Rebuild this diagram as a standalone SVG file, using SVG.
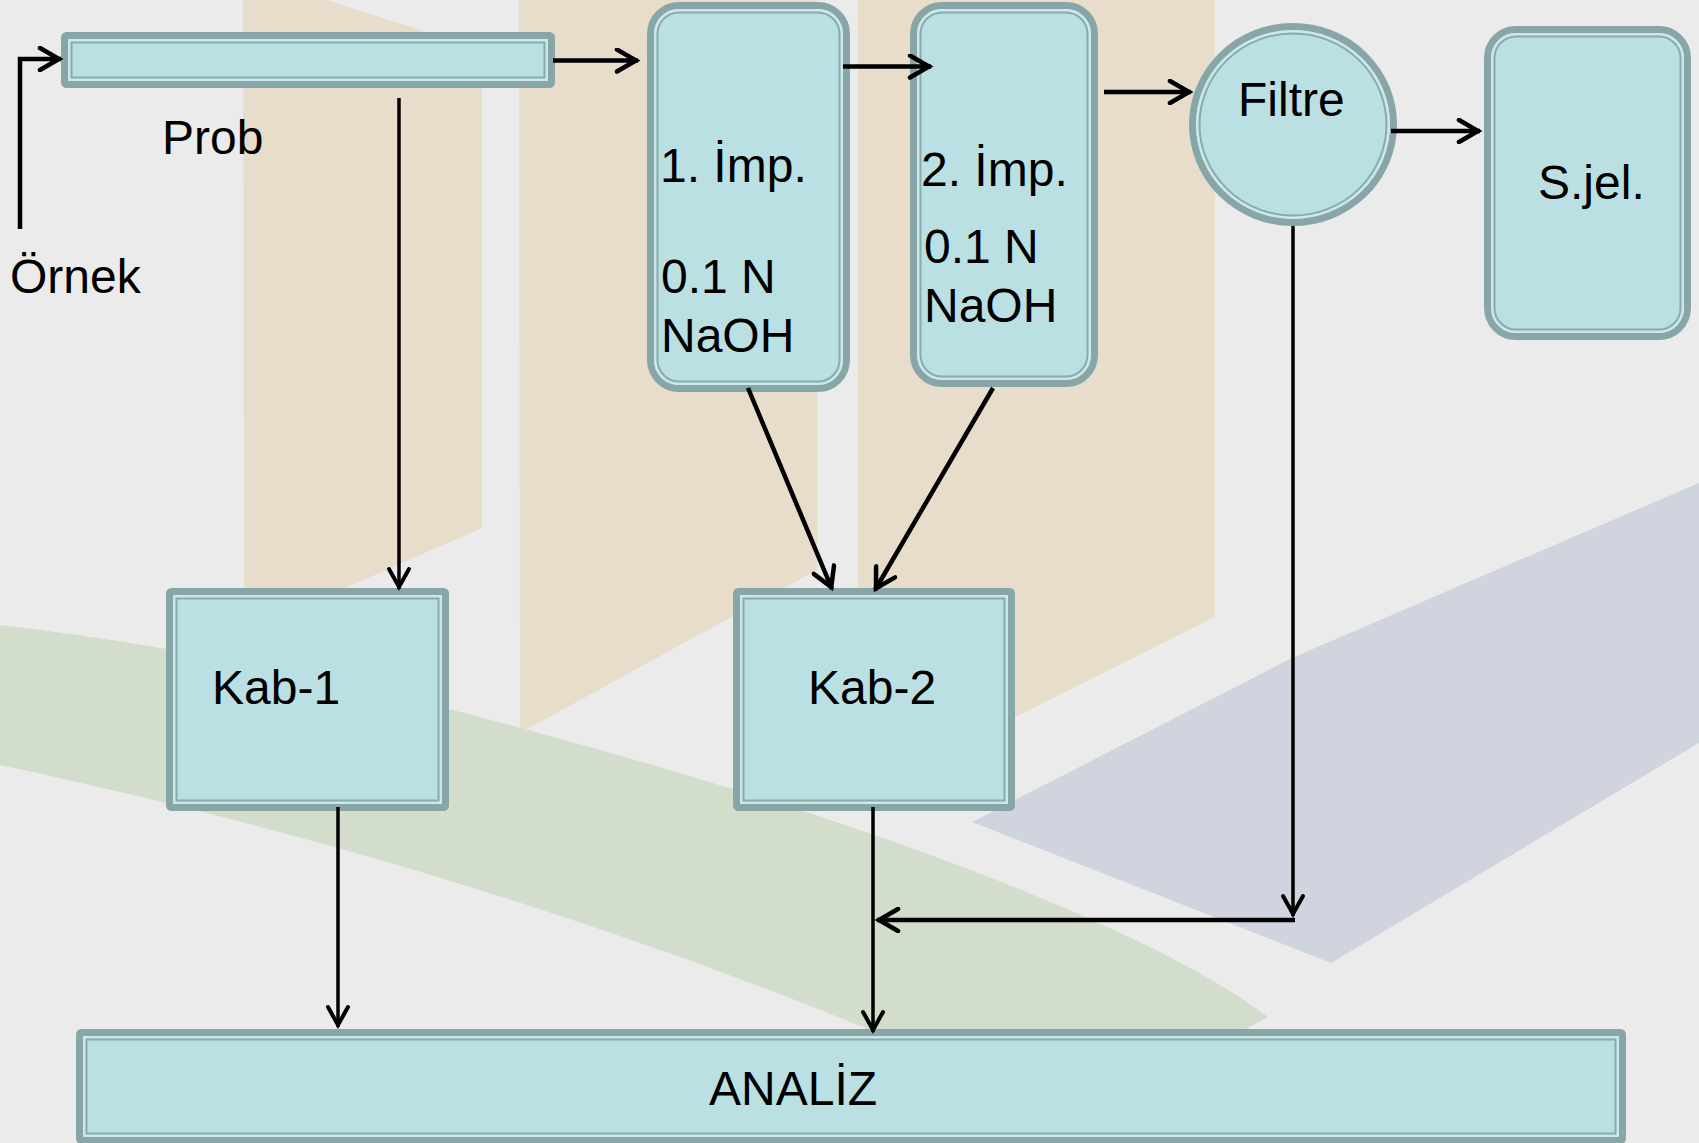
<svg xmlns="http://www.w3.org/2000/svg" width="1699" height="1143" viewBox="0 0 1699 1143">
<style>
.bg{fill:#ebebeb}
.beige{fill:#e8dccb}
.green{fill:#d3ddcb}
.lav{fill:#d0d4de}
.outer{fill:#bae0e3;stroke:#88a5a8;stroke-width:7}
.band{fill:none;stroke:#cbe8ea;stroke-width:2.5}
.inner{fill:none;stroke:#8aabae;stroke-width:2}
.lbl{font-family:"Liberation Sans",Arial,sans-serif;font-size:48px;fill:#000}
.c4{fill:none;stroke:#000;stroke-width:4.5}
.c3{fill:none;stroke:#000;stroke-width:3.5}
</style>
<defs>
<marker id="ah4" viewBox="0 0 30 26" markerWidth="30" markerHeight="26" refX="24" refY="13" orient="auto" markerUnits="userSpaceOnUse">
<path d="M3,2 L22,13 L3,24" fill="none" stroke="#000" stroke-width="4.5" stroke-linecap="round"/>
</marker>
<marker id="ah3" viewBox="0 0 30 26" markerWidth="30" markerHeight="26" refX="24" refY="13" orient="auto" markerUnits="userSpaceOnUse">
<path d="M4,3 L22,13 L4,23" fill="none" stroke="#000" stroke-width="4" stroke-linecap="round"/>
</marker>
</defs>
<g id="background">
<rect class="bg" x="0" y="0" width="1699" height="1143"/>
<polygon class="beige" points="243,0 327,0 482,50 482,528 244,632"/>
<polygon class="beige" points="519,0 817,0 817,570 520,733"/>
<polygon class="beige" points="858,0 1215,0 1215,617 858,796"/>
<path class="green" d="M0,625 C300,660 560,735 800,810 C1000,875 1180,950 1268,1017 L1244,1030 L870,1030 C700,960 400,850 0,765 Z"/>
<polygon class="lav" points="972,822 1294,657 1699,483 1699,743 1331,963"/>
</g>
<g id="prob">
<rect class="outer" x="64.5" y="35.5" width="487" height="49" rx="2"/>
<rect class="band" x="69.25" y="40.25" width="477.5" height="39.5"/>
<rect class="inner" x="71.5" y="42.5" width="473" height="35"/>
</g>
<g id="label-prob"><text class="lbl" x="162" y="154">Prob</text></g>
<g id="label-ornek"><text class="lbl" x="10" y="293">Örnek</text></g>
<g id="imp1">
<rect class="outer" x="650.5" y="5.5" width="196" height="383" rx="28.5"/>
<rect class="band" x="655.25" y="10.25" width="186.5" height="373.5" rx="23.75"/>
<rect class="inner" x="657.5" y="12.5" width="182" height="369" rx="21.5"/>
<text class="lbl" x="660" y="182">1. İmp.</text>
<text class="lbl" x="661" y="293">0.1 N</text>
<text class="lbl" x="661" y="352">NaOH</text>
</g>
<g id="imp2">
<rect class="outer" x="913.5" y="5.5" width="181" height="378" rx="28.5"/>
<rect class="band" x="918.25" y="10.25" width="171.5" height="368.5" rx="23.75"/>
<rect class="inner" x="920.5" y="12.5" width="167" height="364" rx="21.5"/>
<text class="lbl" x="921" y="186">2. İmp.</text>
<text class="lbl" x="924" y="263">0.1 N</text>
<text class="lbl" x="924" y="322">NaOH</text>
</g>
<g id="filtre">
<ellipse class="outer" cx="1293" cy="124.5" rx="100.5" ry="98"/>
<ellipse class="band" cx="1293" cy="124.5" rx="95.75" ry="93.25"/>
<ellipse class="inner" cx="1293" cy="124.5" rx="93.5" ry="91"/>
<text class="lbl" x="1238" y="116">Filtre</text>
</g>
<g id="sjel">
<rect class="outer" x="1487.5" y="29.5" width="200" height="307" rx="28.5"/>
<rect class="band" x="1492.25" y="34.25" width="190.5" height="297.5" rx="23.75"/>
<rect class="inner" x="1494.5" y="36.5" width="186" height="293" rx="21.5"/>
<text class="lbl" x="1538" y="199">S.jel.</text>
</g>
<g id="kab1">
<rect class="outer" x="169.5" y="591.5" width="276" height="216" rx="2"/>
<rect class="band" x="174.25" y="596.25" width="266.5" height="206.5"/>
<rect class="inner" x="176.5" y="598.5" width="262" height="202"/>
<text class="lbl" x="212" y="704">Kab-1</text>
</g>
<g id="kab2">
<rect class="outer" x="736.5" y="591.5" width="275" height="216" rx="2"/>
<rect class="band" x="741.25" y="596.25" width="265.5" height="206.5"/>
<rect class="inner" x="743.5" y="598.5" width="261" height="202"/>
<text class="lbl" x="808" y="704">Kab-2</text>
</g>
<g id="analiz">
<rect class="outer" x="79.5" y="1032.5" width="1543" height="108" rx="2"/>
<rect class="band" x="84.25" y="1037.25" width="1533.5" height="98.5"/>
<rect class="inner" x="86.5" y="1039.5" width="1529" height="94"/>
<text class="lbl" x="709" y="1105">ANALİZ</text>
</g>
<g id="connectors">
<path class="c4" d="M20,229 V59 H61" marker-end="url(#ah4)"/>
<path class="c4" d="M553,60.5 H638" marker-end="url(#ah4)"/>
<path class="c3" d="M399,98 V589" marker-end="url(#ah3)"/>
<path class="c4" d="M843,66.5 H931" marker-end="url(#ah4)"/>
<path class="c4" d="M1104,92 H1191" marker-end="url(#ah4)"/>
<path class="c4" d="M1391,131 H1480" marker-end="url(#ah4)"/>
<path class="c4" d="M748,388 L832,589" marker-end="url(#ah4)"/>
<path class="c4" d="M993,388 L875,590" marker-end="url(#ah4)"/>
<path class="c3" d="M1293,226 V916" marker-end="url(#ah3)"/>
<path class="c4" d="M1295,920 H877" marker-end="url(#ah4)"/>
<path class="c3" d="M338,807 V1027" marker-end="url(#ah3)"/>
<path class="c3" d="M873,807 V1032" marker-end="url(#ah3)"/>
</g>
</svg>
